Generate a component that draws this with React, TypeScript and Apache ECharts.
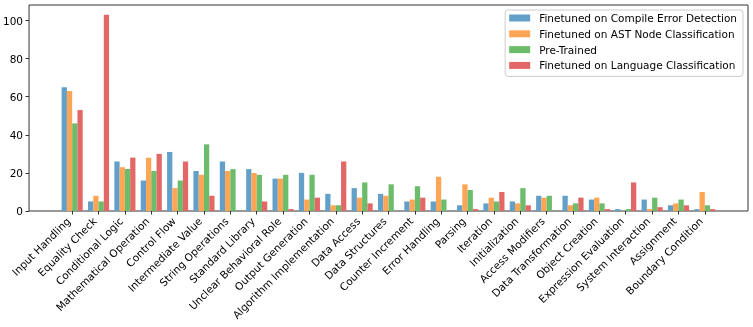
import React, { useEffect, useRef } from "react";
import * as echarts from "echarts";

const categories = [
  "Input Handling", "Equality Check", "Conditional Logic", "Mathematical Operation",
  "Control Flow", "Intermediate Value", "String Operations", "Standard Library",
  "Unclear Behavioral Role", "Output Generation", "Algorithm Implementation",
  "Data Access", "Data Structures", "Counter Increment", "Error Handling", "Parsing",
  "Iteration", "Initialization", "Access Modifiers", "Data Transformation",
  "Object Creation", "Expression Evaluation", "System Interaction", "Assignment",
  "Boundary Condition",
];

const compileErrorValues = [65, 5, 26, 16, 31, 21, 26, 22, 17, 20, 9, 12, 9, 5, 5, 3, 4, 5, 8, 8, 6, 1, 6, 3, 1];
const astNodeValues = [63, 8, 23, 28, 12, 19, 21, 20, 17, 6, 3, 7, 8, 6, 18, 14, 7, 4, 7, 3, 7, 0, 1, 4, 10];
const preTrainedValues = [46, 5, 22, 21, 16, 35, 22, 19, 19, 19, 3, 15, 14, 13, 6, 11, 5, 12, 8, 4, 4, 1, 7, 6, 3];
const languageValues = [53, 103, 28, 30, 26, 8, 0, 5, 1, 7, 26, 4, 0, 7, 0, 1, 10, 3, 0, 7, 1, 15, 2, 3, 1];

const seriesNames = [
  "Finetuned on Compile Error Detection",
  "Finetuned on AST Node Classification",
  "Pre-Trained",
  "Finetuned on Language Classification",
];
const seriesColors = ["#62A0CA", "#FFA556", "#6BBC6B", "#E26868"];
const yTicks = [0, 20, 40, 60, 80, 100];
const yMax = 108.15;

const FONT = "DejaVu Sans";
const FS = 10.5;

export default function App() {
  const ref = useRef<HTMLDivElement>(null);
  useEffect(() => {
    if (!ref.current) return;
    const chart = echarts.init(ref.current, null, { renderer: "svg" });
    const allValues = [compileErrorValues, astNodeValues, preTrainedValues, languageValues];
    chart.setOption({
      animation: false,
      textStyle: { fontFamily: FONT },
      grid: [
        { left: 29, right: 5, top: 5, bottom: 116, show: true, borderColor: "#333", borderWidth: 1, backgroundColor: "transparent" },
        { left: 59, right: 35, top: 5, bottom: 116 },
      ],
      xAxis: [
        { gridIndex: 0, type: "value", show: false, min: 0, max: 1 },
        {
          gridIndex: 1,
          type: "category",
          data: categories,
          axisLine: { show: false },
          axisTick: { show: true, alignWithLabel: true, length: 3.5, lineStyle: { color: "#333" } },
          axisLabel: {
            rotate: 45,
            interval: 0,
            fontSize: FS,
            color: "#000",
            margin: 12,
            verticalAlign: "bottom",
            fontFamily: FONT,
          },
        },
      ],
      yAxis: [
        {
          gridIndex: 0,
          type: "value",
          min: 0,
          max: yMax,
          axisLine: { show: false },
          splitLine: { show: false },
          axisTick: { show: true, length: 3.5, lineStyle: { color: "#333" }, customValues: yTicks },
          axisLabel: { fontSize: FS, color: "#000", margin: 6, fontFamily: FONT, customValues: yTicks },
        },
        { gridIndex: 1, type: "value", min: 0, max: yMax, show: false },
      ],
      legend: {
        orient: "vertical",
        right: 10,
        top: 10,
        icon: "rect",
        itemWidth: 21,
        itemHeight: 7,
        itemGap: 3.8,
        padding: [2, 6, 5, 4],
        borderColor: "#ccc",
        borderWidth: 1,
        borderRadius: 3,
        backgroundColor: "rgba(255,255,255,0.8)",
        textStyle: { fontSize: FS, color: "#000", fontFamily: FONT, lineHeight: 12, padding: [0, 0, 0, 4] },
        data: seriesNames,
      },
      series: seriesNames.map((name, i) => ({
        name,
        type: "bar",
        xAxisIndex: 1,
        yAxisIndex: 1,
        data: allValues[i],
        barGap: "0%",
        barCategoryGap: "20%",
        itemStyle: { color: seriesColors[i] },
      })),
    });
    return () => chart.dispose();
  }, []);
  return <div ref={ref} style={{ position: "fixed", left: 0, top: 0, width: 753, height: 327 }} />;
}
